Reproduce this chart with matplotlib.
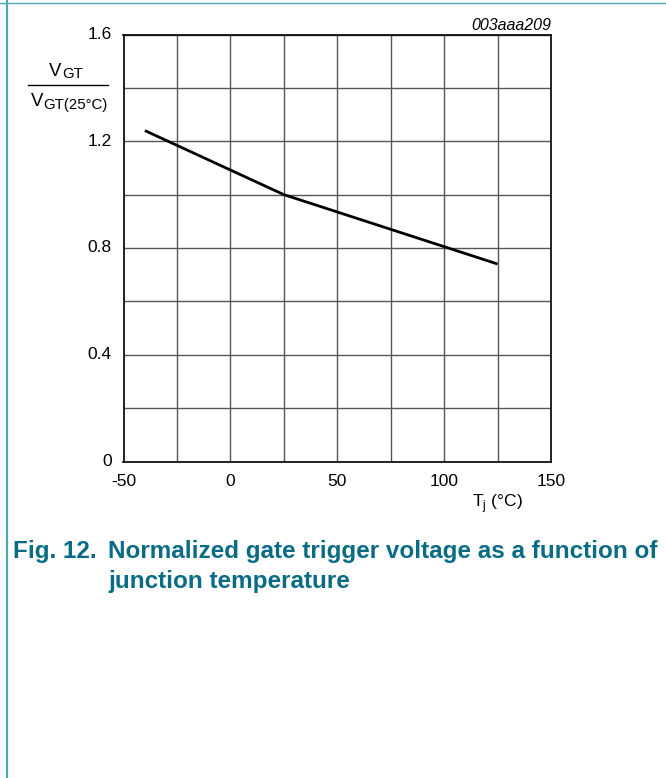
import matplotlib
matplotlib.use("Agg")
import matplotlib.pyplot as plt
import numpy as np

plt.rcParams["font.family"] = ["Liberation Sans", "DejaVu Sans"]

# ── data ──────────────────────────────────────────────────────────────────────
tj_c    = [-40, 25, 125]          # junction temperature (°C)
vgt_rel = [1.24, 1.00, 0.74]      # V_GT / V_GT(25°C)
x_ticks = [-50, 0, 50, 100, 150]
y_ticks = [0, 0.4, 0.8, 1.2, 1.6]
x_tick_labels = ["-50", "0", "50", "100", "150"]
y_tick_labels = ["0", "0.4", "0.8", "1.2", "1.6"]

W, H = 666, 778
fig = plt.figure(figsize=(W / 100, H / 100), dpi=100)
renderer = fig.canvas.get_renderer()

def px(x, y):
    return x / W, 1 - y / H

# page border lines
fig.add_artist(plt.Line2D([6.5 / W, 6.5 / W], [0, 1], color="#4fa8b6", lw=1.6))
fig.add_artist(plt.Line2D([0, 1], [1 - 3 / H, 1 - 3 / H], color="#4fa8b6", lw=1.0))

# axes box in pixels
l, r, t, b = 123.5, 551, 34.5, 461.5
ax = fig.add_axes([l / W, 1 - b / H, (r - l) / W, (b - t) / H])

ax.plot(tj_c, vgt_rel, color="black", lw=2.0, solid_capstyle="butt")

ax.set_xlim(-50, 150)
ax.set_ylim(0, 1.6)
ax.set_xticks(np.arange(-50, 151, 25))
ax.set_yticks(np.arange(0, 1.61, 0.2))
ax.grid(True, color="#555555", lw=1.0)
ax.tick_params(length=0, labelbottom=False, labelleft=False)
for s in ax.spines.values():
    s.set_color("black")
    s.set_linewidth(1.2)

# tick labels only on every second grid line
for xv, lab in zip(x_ticks, x_tick_labels):
    ax.text(xv, -0.045, lab, ha="center", va="top", fontsize=12.5)
for yv, lab in zip(y_ticks, y_tick_labels):
    ax.text(-55.5, yv, lab, ha="right", va="center", fontsize=12.5)

# x axis label
ax.text(125, -0.115, r"T$_\mathregular{j}$ (°C)", ha="center", va="top", fontsize=12.5)

# y axis label as a fraction, V with a large subscript
def v_sub(xc, yb, sub, fs=13.4, sfs=10.8, drop=2.5):
    v = fig.text(0, 0, "V", fontsize=fs, va="baseline")
    s = fig.text(0, 0, sub, fontsize=sfs, va="baseline")
    wv = v.get_window_extent(renderer).width
    ws = s.get_window_extent(renderer).width
    x0 = xc - (wv + ws) / 2
    v.set_position(px(x0, yb))
    s.set_position(px(x0 + wv, yb + drop))

v_sub(66, 76, "GT")
fig.add_artist(plt.Line2D([28 / W, 108 / W], [1 - 85 / H, 1 - 85 / H], color="black", lw=1.0))
v_sub(69, 106, "GT(25°C)")

ax.text(150, 1.606, "003aaa209", ha="right", va="bottom", fontsize=11.5, style="italic")

# caption
cap = "#0a6b85"
fig.text(*px(13, 558), "Fig. 12.", color=cap, fontsize=17.5, fontweight="bold", va="baseline")
fig.text(*px(108, 558), "Normalized gate trigger voltage as a function of",
         color=cap, fontsize=17.5, fontweight="bold", va="baseline")
fig.text(*px(108, 588), "junction temperature",
         color=cap, fontsize=17.5, fontweight="bold", va="baseline")

fig.savefig("out.png", dpi=100)
